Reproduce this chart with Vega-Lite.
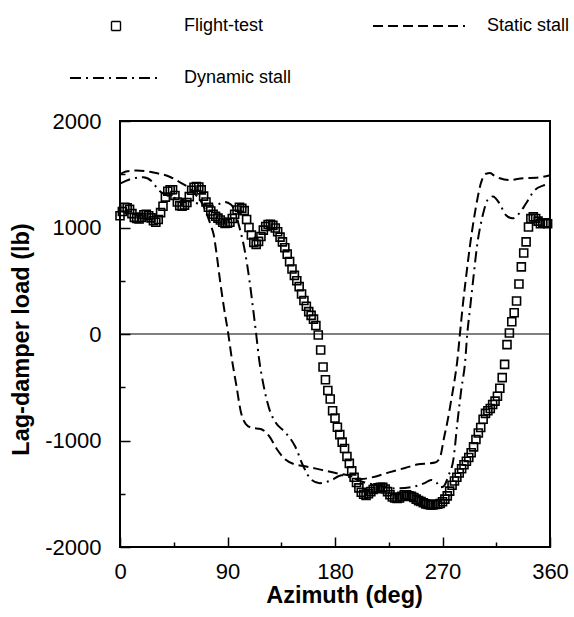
{
  "$schema": "https://vega.github.io/schema/vega-lite/v6.json",
  "width": 430,
  "height": 426,
  "autosize": "none",
  "padding": {"left": 120, "top": 121, "right": 24, "bottom": 70},
  "background": "white",
  "config": {
    "view": {"stroke": "black", "strokeWidth": 2},
    "font": "Liberation Sans",
    "axis": {"domain": false, "grid": false, "tickColor": "black", "tickWidth": 1.5, "labelColor": "black", "labelFont": "Liberation Sans", "labelFontSize": 22, "titleFont": "Liberation Sans", "titleFontSize": 23.5, "titleFontWeight": "bold", "titleColor": "black", "labelFlush": false, "labelOverlap": false}
  },
  "datasets": {
    "flight": [
      {"az":0,"load":1110},{"az":2,"load":1150},{"az":4,"load":1190},{"az":6,"load":1185},{"az":8,"load":1170},{"az":10,"load":1130},{"az":12,"load":1095},{"az":14,"load":1085},{"az":16,"load":1080},{"az":18,"load":1095},
      {"az":20,"load":1120},{"az":22,"load":1125},{"az":24,"load":1110},{"az":26,"load":1090},{"az":28,"load":1065},{"az":30,"load":1050},{"az":32,"load":1075},{"az":34,"load":1140},{"az":36,"load":1200},{"az":38,"load":1285},
      {"az":40,"load":1340},{"az":42,"load":1355},{"az":44,"load":1355},{"az":46,"load":1300},{"az":48,"load":1240},{"az":50,"load":1205},{"az":52,"load":1200},{"az":54,"load":1210},{"az":56,"load":1235},{"az":58,"load":1290},
      {"az":60,"load":1350},{"az":62,"load":1378},{"az":64,"load":1385},{"az":66,"load":1380},{"az":68,"load":1353},{"az":70,"load":1295},{"az":72,"load":1240},{"az":74,"load":1190},{"az":76,"load":1155},{"az":78,"load":1125},
      {"az":80,"load":1105},{"az":82,"load":1088},{"az":84,"load":1070},{"az":86,"load":1050},{"az":88,"load":1038},{"az":90,"load":1040},{"az":92,"load":1050},{"az":94,"load":1085},{"az":96,"load":1125},{"az":98,"load":1165},
      {"az":100,"load":1190},{"az":102,"load":1180},{"az":104,"load":1158},{"az":106,"load":1075},{"az":108,"load":1000},{"az":110,"load":930},{"az":112,"load":860},{"az":114,"load":842},{"az":116,"load":870},{"az":118,"load":915},
      {"az":120,"load":975},{"az":122,"load":1010},{"az":124,"load":1028},{"az":126,"load":1030},{"az":128,"load":1020},{"az":130,"load":995},{"az":132,"load":960},{"az":134,"load":910},{"az":136,"load":865},{"az":138,"load":810},
      {"az":140,"load":750},{"az":142,"load":680},{"az":144,"load":610},{"az":146,"load":550},{"az":148,"load":500},{"az":150,"load":445},{"az":152,"load":375},{"az":154,"load":315},{"az":156,"load":260},{"az":158,"load":210},
      {"az":160,"load":175},{"az":162,"load":140},{"az":164,"load":80},{"az":166,"load":-10},{"az":168,"load":-150},{"az":170,"load":-310},{"az":172,"load":-430},{"az":174,"load":-530},{"az":176,"load":-610},{"az":178,"load":-720},
      {"az":180,"load":-790},{"az":182,"load":-875},{"az":184,"load":-945},{"az":186,"load":-1015},{"az":188,"load":-1075},{"az":190,"load":-1150},{"az":192,"load":-1215},{"az":194,"load":-1285},{"az":196,"load":-1345},{"az":198,"load":-1395},
      {"az":200,"load":-1445},{"az":202,"load":-1486},{"az":204,"load":-1505},{"az":206,"load":-1515},{"az":208,"load":-1500},{"az":210,"load":-1480},{"az":212,"load":-1460},{"az":214,"load":-1452},{"az":216,"load":-1445},{"az":218,"load":-1440},
      {"az":220,"load":-1440},{"az":222,"load":-1455},{"az":224,"load":-1480},{"az":226,"load":-1510},{"az":228,"load":-1530},{"az":230,"load":-1540},{"az":232,"load":-1545},{"az":234,"load":-1540},{"az":236,"load":-1525},{"az":238,"load":-1510},
      {"az":240,"load":-1510},{"az":242,"load":-1520},{"az":244,"load":-1525},{"az":246,"load":-1535},{"az":248,"load":-1550},{"az":250,"load":-1565},{"az":252,"load":-1573},{"az":254,"load":-1585},{"az":256,"load":-1595},{"az":258,"load":-1600},
      {"az":260,"load":-1605},{"az":262,"load":-1605},{"az":264,"load":-1600},{"az":266,"load":-1598},{"az":268,"load":-1592},{"az":270,"load":-1575},{"az":272,"load":-1550},{"az":274,"load":-1520},{"az":276,"load":-1475},{"az":278,"load":-1420},
      {"az":280,"load":-1380},{"az":282,"load":-1345},{"az":284,"load":-1305},{"az":286,"load":-1265},{"az":288,"load":-1228},{"az":290,"load":-1195},{"az":292,"load":-1160},{"az":294,"load":-1115},{"az":296,"load":-1060},{"az":298,"load":-990},
      {"az":300,"load":-930},{"az":302,"load":-878},{"az":304,"load":-800},{"az":306,"load":-745},{"az":308,"load":-720},{"az":310,"load":-700},{"az":312,"load":-662},{"az":314,"load":-630},{"az":316,"load":-585},{"az":318,"load":-510},
      {"az":320,"load":-410},{"az":322,"load":-285},{"az":324,"load":-100},{"az":326,"load":10},{"az":328,"load":115},{"az":330,"load":200},{"az":332,"load":310},{"az":334,"load":470},{"az":336,"load":630},{"az":338,"load":760},
      {"az":340,"load":865},{"az":342,"load":1005},{"az":344,"load":1083},{"az":346,"load":1100},{"az":348,"load":1085},{"az":350,"load":1060},{"az":352,"load":1035},{"az":354,"load":1045},{"az":356,"load":1045},{"az":358,"load":1035}
    ],
    "curves": [
      {"series":"Static stall","az":0,"load":1500},{"series":"Static stall","az":5,"load":1525},{"series":"Static stall","az":14,"load":1535},{"series":"Static stall","az":28,"load":1516},{"series":"Static stall","az":42,"load":1474},
      {"series":"Static stall","az":51,"load":1419},{"series":"Static stall","az":58,"load":1370},{"series":"Static stall","az":64,"load":1300},{"series":"Static stall","az":69,"load":1220},{"series":"Static stall","az":73,"load":1117},
      {"series":"Static stall","az":76,"load":1020},{"series":"Static stall","az":78.5,"load":929},{"series":"Static stall","az":81,"load":740},{"series":"Static stall","az":84,"load":480},{"series":"Static stall","az":87,"load":250},
      {"series":"Static stall","az":90.6,"load":5},{"series":"Static stall","az":93.6,"load":-231},{"series":"Static stall","az":97.4,"load":-482},{"series":"Static stall","az":101.2,"load":-732},{"series":"Static stall","az":105.2,"load":-843},
      {"series":"Static stall","az":110.7,"load":-882},{"series":"Static stall","az":117.7,"load":-892},{"series":"Static stall","az":124.6,"load":-955},{"series":"Static stall","az":131.4,"load":-1082},{"series":"Static stall","az":138.2,"load":-1177},
      {"series":"Static stall","az":146.6,"load":-1225},{"series":"Static stall","az":154.9,"load":-1242},{"series":"Static stall","az":168.8,"load":-1276},{"series":"Static stall","az":182.7,"load":-1310},{"series":"Static stall","az":191.1,"load":-1327},
      {"series":"Static stall","az":202.1,"load":-1361},{"series":"Static stall","az":210.6,"load":-1347},{"series":"Static stall","az":224.5,"load":-1302},{"series":"Static stall","az":238.6,"load":-1258},{"series":"Static stall","az":249.8,"load":-1223},
      {"series":"Static stall","az":258.2,"load":-1215},{"series":"Static stall","az":263.8,"load":-1207},{"series":"Static stall","az":266.5,"load":-1185},{"series":"Static stall","az":268.5,"load":-1138},{"series":"Static stall","az":271,"load":-990},
      {"series":"Static stall","az":274,"load":-830},{"series":"Static stall","az":277,"load":-640},{"series":"Static stall","az":280,"load":-440},{"series":"Static stall","az":282.5,"load":-240},{"series":"Static stall","az":284.5,"load":-10},
      {"series":"Static stall","az":287,"load":270},{"series":"Static stall","az":290,"load":560},{"series":"Static stall","az":293,"load":830},{"series":"Static stall","az":296,"load":1060},{"series":"Static stall","az":299.6,"load":1290},
      {"series":"Static stall","az":302,"load":1410},{"series":"Static stall","az":304,"load":1475},{"series":"Static stall","az":306.5,"load":1505},{"series":"Static stall","az":309.7,"load":1511},{"series":"Static stall","az":313,"load":1490},
      {"series":"Static stall","az":318,"load":1463},{"series":"Static stall","az":326.4,"load":1446},{"series":"Static stall","az":337.5,"load":1463},{"series":"Static stall","az":348.7,"load":1467},{"series":"Static stall","az":360,"load":1490},
      {"series":"Dynamic stall","az":0,"load":1412},{"series":"Dynamic stall","az":9.5,"load":1457},{"series":"Dynamic stall","az":19.3,"load":1471},{"series":"Dynamic stall","az":27.6,"load":1423},{"series":"Dynamic stall","az":31.6,"load":1360},
      {"series":"Dynamic stall","az":36,"load":1320},{"series":"Dynamic stall","az":42,"load":1290},{"series":"Dynamic stall","az":50,"load":1265},{"series":"Dynamic stall","az":60,"load":1240},{"series":"Dynamic stall","az":70,"load":1215},
      {"series":"Dynamic stall","az":78,"load":1205},{"series":"Dynamic stall","az":82,"load":1216},{"series":"Dynamic stall","az":87.4,"load":1240},{"series":"Dynamic stall","az":92.8,"load":1216},{"series":"Dynamic stall","az":96.3,"load":1150},
      {"series":"Dynamic stall","az":99.6,"load":1018},{"series":"Dynamic stall","az":104.7,"load":768},{"series":"Dynamic stall","az":108.6,"load":486},{"series":"Dynamic stall","az":111.5,"load":230},{"series":"Dynamic stall","az":114,"load":0},
      {"series":"Dynamic stall","az":116.5,"load":-240},{"series":"Dynamic stall","az":119.7,"load":-454},{"series":"Dynamic stall","az":125,"load":-705},{"series":"Dynamic stall","az":130.3,"load":-831},{"series":"Dynamic stall","az":138.6,"load":-926},
      {"series":"Dynamic stall","az":146.8,"load":-1059},{"series":"Dynamic stall","az":153.5,"load":-1242},{"series":"Dynamic stall","az":160.2,"load":-1368},{"series":"Dynamic stall","az":167.2,"load":-1401},{"series":"Dynamic stall","az":177.1,"load":-1372},
      {"series":"Dynamic stall","az":185.5,"load":-1326},{"series":"Dynamic stall","az":195,"load":-1355},{"series":"Dynamic stall","az":205,"load":-1395},{"series":"Dynamic stall","az":215,"load":-1420},{"series":"Dynamic stall","az":231,"load":-1450},
      {"series":"Dynamic stall","az":246.7,"load":-1431},{"series":"Dynamic stall","az":255,"load":-1400},{"series":"Dynamic stall","az":260.5,"load":-1371},{"series":"Dynamic stall","az":265,"load":-1395},{"series":"Dynamic stall","az":268,"load":-1440},
      {"series":"Dynamic stall","az":271,"load":-1430},{"series":"Dynamic stall","az":275,"load":-1330},{"series":"Dynamic stall","az":279.2,"load":-1172},{"series":"Dynamic stall","az":282.5,"load":-828},{"series":"Dynamic stall","az":285.8,"load":-516},
      {"series":"Dynamic stall","az":288.9,"load":-266},{"series":"Dynamic stall","az":290.7,"load":-5},{"series":"Dynamic stall","az":293.3,"load":264},{"series":"Dynamic stall","az":295.7,"load":511},{"series":"Dynamic stall","az":298.9,"load":826},
      {"series":"Dynamic stall","az":303.5,"load":1105},{"series":"Dynamic stall","az":307.9,"load":1261},{"series":"Dynamic stall","az":312.2,"load":1292},{"series":"Dynamic stall","az":317.6,"load":1228},{"series":"Dynamic stall","az":323,"load":1118},
      {"series":"Dynamic stall","az":328.5,"load":1086},{"series":"Dynamic stall","az":334.2,"load":1132},{"series":"Dynamic stall","az":339.9,"load":1225},{"series":"Dynamic stall","az":347,"load":1348},{"series":"Dynamic stall","az":354.1,"load":1393},
      {"series":"Dynamic stall","az":360,"load":1410}
    ]
  },
  "resolve": {"axis": {"x": "independent", "y": "independent"}},
  "layer": [
    {
      "data": {"values": [{"z": 0}]},
      "mark": {"type": "rule", "color": "black", "strokeWidth": 1},
      "encoding": {"y": {"field": "z", "type": "quantitative", "scale": {"domain": [-2000, 2000], "nice": false}, "axis": null}}
    },
    {
      "data": {"name": "curves"},
      "mark": {"type": "line", "color": "black", "strokeWidth": 2, "interpolate": "monotone"},
      "encoding": {
        "x": {"field": "az", "type": "quantitative", "scale": {"domain": [0, 360], "nice": false, "zero": false},
          "axis": {"orient": "bottom", "title": "Azimuth (deg)", "values": [0, 90, 180, 270, 360],
            "labelExpr": "'' + datum.value", "tickSize": -10, "labelPadding": 24,
            "titleX": 224, "titleY": 55, "titleBaseline": "alphabetic", "titleAnchor": null}},
        "y": {"field": "load", "type": "quantitative", "scale": {"domain": [-2000, 2000], "nice": false},
          "axis": {"orient": "left", "title": "Lag-damper load (lb)", "values": [-2000, -1000, 0, 1000, 2000],
            "labelExpr": "'' + datum.value", "tickSize": -10, "labelPadding": 29,
            "titleX": -99, "titleY": 218, "titleBaseline": "middle", "titleAngle": -90, "titleAnchor": null}},
        "strokeDash": {"field": "series", "type": "nominal",
          "scale": {"domain": ["Flight-test", "Static stall", "Dynamic stall"], "range": [[1, 0], [10, 5], [11, 5, 2, 5]]},
          "legend": {"title": null, "orient": "none", "legendX": -49, "legendY": -104, "columns": 2, "direction": "horizontal",
            "symbolType": "stroke", "symbolSize": 400, "symbolStrokeWidth": 2.2, "symbolStrokeColor": "black", "symbolOffset": 36,
            "rowPadding": 34, "columnPadding": 76, "labelFont": "Liberation Sans", "labelFontSize": 18, "labelColor": "black", "labelOffset": 59, "padding": 0,
            "encode": {"symbols": {"update": {
              "shape": {"signal": "datum.value === 'Flight-test' ? 'square' : 'stroke'"},
              "size": {"signal": "datum.value === 'Flight-test' ? 81 : 8464"},
              "strokeWidth": {"signal": "datum.value === 'Flight-test' ? 1.4 : 2.2"}
            }}}}
        }
      }
    },
    {
      "data": {"name": "flight"},
      "mark": {"type": "point", "shape": "square", "size": 64, "filled": false, "stroke": "black", "strokeWidth": 1.6, "opacity": 1},
      "encoding": {
        "x": {"field": "az", "type": "quantitative",
          "axis": {"orient": "bottom", "title": null, "values": [45, 135, 225, 315], "labels": false, "tickSize": -5}},
        "y": {"field": "load", "type": "quantitative",
          "axis": {"orient": "left", "title": null, "values": [-1500, -500, 500, 1500], "labels": false, "tickSize": -5}}
      }
    }
  ]
}
